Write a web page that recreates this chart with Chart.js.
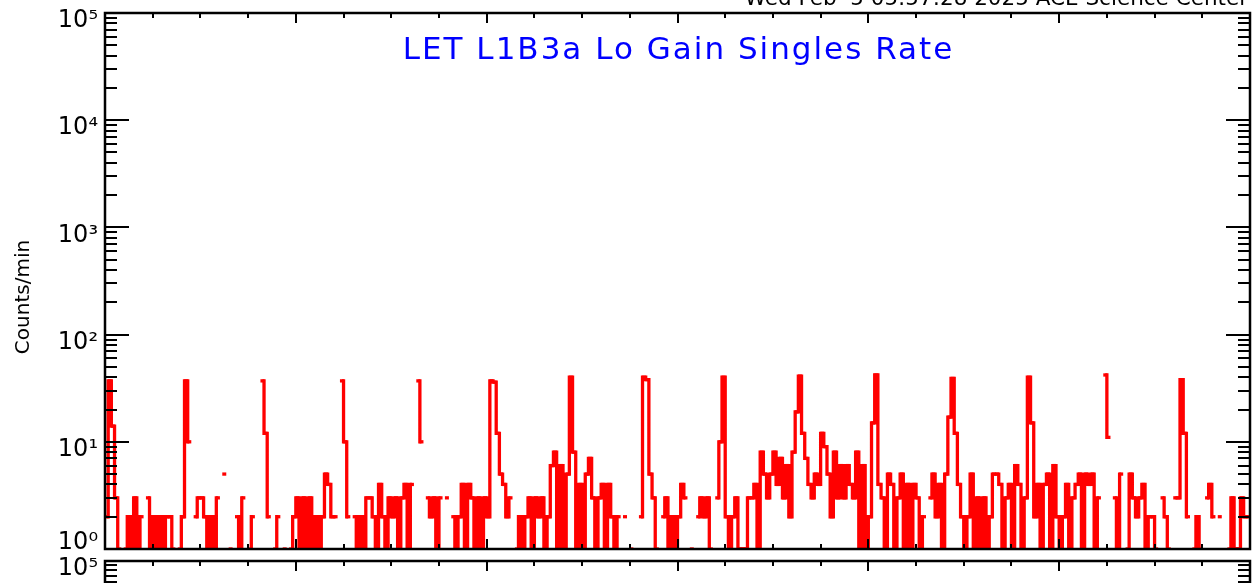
<!DOCTYPE html>
<html>
<head>
<meta charset="utf-8">
<script src="https://cdn.jsdelivr.net/npm/chart.js@4/dist/chart.umd.min.js"></script>
<style>
  html, body { margin: 0; padding: 0; background: #fff; overflow: hidden; }
  body { width: 1260px; height: 583px; position: relative; }
  .panel { position: absolute; left: 0; width: 1260px; }
  #top { top: 0; height: 583px; }
  #bottom { top: 548px; height: 520px; }
</style>
</head>
<body>
<div class="panel" id="top"><canvas id="rate"></canvas></div>
<div class="panel" id="bottom"><canvas id="next"></canvas></div>
<script>
// LET L1B3a lo-gain singles, one day, 4-minute samples.
// null = zero counts (no point on a log axis).
const plotTitle = "LET L1B3a Lo Gain Singles Rate";
const stamp = "Wed Feb  5 05:57:28 2025 ACE Science Center";
const yTitle = "Counts/min";
const stepMin = 4;
const hourTicks = [0, 1, 2, 3, 4, 5, 6, 7, 8, 9, 10, 11, 12, 13, 14, 15, 16, 17, 18, 19, 20, 21, 22, 23, 24];
const decades = [1, 10, 100, 1000, 10000, 100000];

const rate = [
  2, 37, 14, 3, 1, null, 1, 2, 1, 3,
  1, 2, null, 3, 1, 2, 1, 2, 1, 2,
  2, 1, null, 1, 2, 37, 10, null, 2, 3,
  3, 2, 1, 2, 1, 3, null, 5, null, 1,
  null, 2, 1, 3, null, 1, 2, null, null, 37,
  12, 2, null, 1, 2, null, 1, null, 1, 2,
  3, 1, 3, 1, 3, 1, 2, 1, 2, 5,
  4, 2, 2, null, 37, 10, 2, null, 2, 1,
  2, 1, 3, 3, 2, 1, 4, 2, 1, 3,
  2, 3, 1, 3, 4, 1, 4, null, 37, 10,
  null, 3, 2, 3, 1, 3, null, 3, null, 2,
  1, 2, 4, 1, 4, 3, 1, 3, 1, 3,
  2, 37, 36, 12, 5, 4, 2, 3, null, 1,
  2, 1, 2, 3, 1, 3, 2, 3, 1, 2,
  6, 8, 1, 6, 1, 5, 40, 8, 1, 4,
  1, 5, 7, 3, 1, 3, 4, 1, 4, 2,
  1, 2, null, 2, null, 1, null, null, 2, 40,
  38, 5, 3, 1, null, 2, 3, 1, 2, 1,
  2, 4, 3, null, 1, null, 2, 3, 2, 3,
  1, null, 3, 10, 40, 2, 1, 2, 3, 1,
  1, 1, 3, 3, 4, 1, 8, 5, 3, 5,
  8, 4, 7, 3, 6, 2, 8, 19, 41, 12,
  7, 4, 3, 5, 4, 12, 9, 5, 2, 8,
  3, 6, 3, 6, 4, 3, 8, 1, 6, 1,
  2, 15, 42, 4, 3, 1, 5, 4, 1, 3,
  5, 1, 4, 1, 4, 3, 1, 2, null, 3,
  5, 2, 4, 1, 5, 17, 39, 12, 4, 2,
  1, 2, 5, 1, 3, 1, 3, 1, 2, 5,
  5, 4, 1, 3, 4, 1, 6, 4, 1, 3,
  40, 15, 2, 4, 1, 4, 5, 1, 6, 2,
  1, 2, 4, 1, 3, 4, 5, 1, 5, 4,
  5, 1, 3, null, 42, 11, null, 3, 1, 5,
  null, 1, 5, 3, 2, 3, 4, 1, 2, 2,
  1, null, 3, 2, 1, null, 3, 3, 38, 12,
  2, null, 1, 2, 1, null, 3, 4, 2, null,
  2, null, null, 1, 3, 1, 1, 3, 2, 2,
];

const FONT = '"DejaVu Sans", sans-serif';
const SUP = ["\u2070", "\u00b9", "\u00b2", "\u00b3", "\u2074", "\u2075"];

// minor ticks 1..9 in every decade
const yTicks = [];
decades.forEach((d) => {
  for (let m = 1; m <= 9; m++) if (d * m <= 100000) yTicks.push(d * m);
});

function decadeLabel(v) {
  const i = decades.indexOf(v);
  if (i < 0) return "";
  // lowest label sits a little above its tick, as in the IDL plot
  return i === 0 ? ["10" + SUP[i], ""] : "10" + SUP[i];
}

// IDL-style frame: ticks on all four sides pointing inward
const frameTicks = {
  id: "frameTicks",
  afterDraw(chart) {
    const { ctx, chartArea: a, scales: { x, y } } = chart;
    ctx.save();
    ctx.strokeStyle = "#000";
    ctx.lineWidth = 2;
    ctx.beginPath();
    y.ticks.forEach((t) => {
      const py = Math.round(y.getPixelForValue(t.value));
      const len = decades.includes(t.value) ? 24 : 12;
      ctx.moveTo(a.left, py); ctx.lineTo(a.left + len, py);
      ctx.moveTo(a.right, py); ctx.lineTo(a.right - len, py);
    });
    x.ticks.forEach((t) => {
      const px = Math.round(x.getPixelForValue(t.value));
      const len = t.value % 4 === 0 ? 10 : 5;
      ctx.moveTo(px, a.bottom); ctx.lineTo(px, a.bottom - len);
      ctx.moveTo(px, a.top); ctx.lineTo(px, a.top + len);
    });
    ctx.stroke();
    ctx.lineWidth = 2.5;
    ctx.strokeRect(a.left, a.top, a.right - a.left, a.bottom - a.top);
    ctx.restore();
  },
};

const headings = {
  id: "headings",
  afterDraw(chart) {
    const { ctx, chartArea: a } = chart;
    ctx.save();
    ctx.fillStyle = "#0000ff";
    ctx.font = "31px " + FONT;
    ctx.letterSpacing = "2px";
    ctx.textAlign = "center";
    ctx.textBaseline = "middle";
    ctx.fillText(plotTitle, (a.left + a.right) / 2 + 1, 51);
    ctx.letterSpacing = "0px";
    ctx.fillStyle = "#000";
    ctx.font = "21.5px " + FONT;
    ctx.textAlign = "right";
    ctx.textBaseline = "alphabetic";
    ctx.fillText(stamp, 1248, 5);
    // y axis title
    ctx.font = "20px " + FONT;
    ctx.textAlign = "center";
    ctx.textBaseline = "middle";
    ctx.translate(24, 297);
    ctx.rotate(-Math.PI / 2);
    ctx.fillText(yTitle, 0, 0);
    ctx.restore();
  },
};

function scales() {
  return {
    x: {
      type: "linear", min: 0, max: 24,
      afterBuildTicks: (s) => { s.ticks = hourTicks.map((v) => ({ value: v })); },
      afterFit: (s) => { s.height = 34; s.paddingLeft = 0; s.paddingRight = 0; },
      grid: { display: false, drawTicks: false }, border: { display: false },
      ticks: { display: false },
    },
    y: {
      type: "logarithmic", min: 1, max: 100000,
      afterBuildTicks: (s) => { s.ticks = yTicks.map((v) => ({ value: v })); },
      afterFit: (s) => { s.width = 105; s.paddingTop = 0; s.paddingBottom = 0; },
      grid: { display: false, drawTicks: false }, border: { display: false },
      ticks: {
        autoSkip: false, color: "#000", padding: 7, labelOffset: 8,
        font: { family: FONT, size: 24 }, callback: decadeLabel,
      },
    },
  };
}

Chart.defaults.animation = false;

new Chart(document.getElementById("rate"), {
  type: "line",
  data: {
    datasets: [{
      data: rate.map((v, i) => ({ x: ((i + 0.5) * stepMin) / 60, y: v })),
      borderColor: "#ff0000", backgroundColor: "#ff0000",
      borderWidth: 3.3, stepped: "middle", spanGaps: false,
      pointStyle: "line", pointRadius: 2, pointHoverRadius: 2,
      pointBorderColor: "#ff0000", pointBorderWidth: 3.3,
    }],
  },
  options: {
    responsive: true, maintainAspectRatio: false,
    layout: { padding: { top: 13, right: 10, bottom: 0, left: 0 } },
    plugins: { legend: { display: false }, tooltip: { enabled: false } },
    scales: scales(),
  },
  plugins: [frameTicks, headings],
});

// next panel of the stack, only its top edge is on screen
new Chart(document.getElementById("next"), {
  type: "line",
  data: { datasets: [] },
  options: {
    responsive: true, maintainAspectRatio: false,
    layout: { padding: { top: 13, right: 10, bottom: 0, left: 0 } },
    plugins: { legend: { display: false }, tooltip: { enabled: false } },
    scales: scales(),
  },
  plugins: [frameTicks],
});
</script>
</body>
</html>
